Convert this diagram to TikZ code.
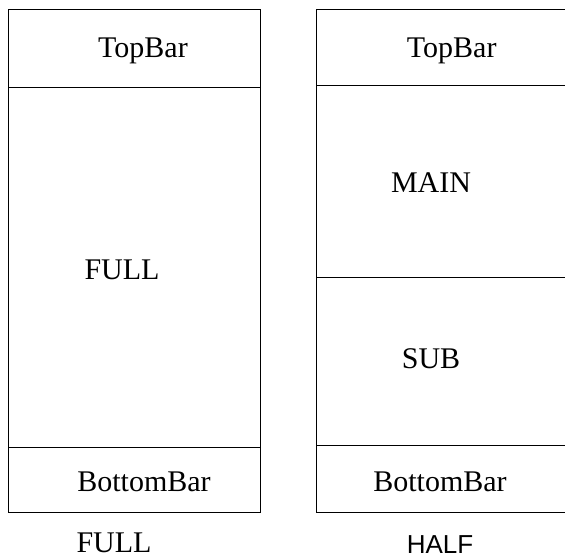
\documentclass[tikz,border=0pt]{standalone}
\usepackage{fontspec}
\setmainfont{Liberation Serif}
\newfontfamily\halffont{Liberation Sans}

\begin{document}
\begin{tikzpicture}[x=1bp,y=-1bp,
                    thick,
                    bar/.style={draw,line width=0.9bp},
                    label node/.style={anchor=base,inner sep=0pt,font=\fontsize{30bp}{36bp}\selectfont}]

  \useasboundingbox (0,0) rectangle (565,560);

  % left screen
  \draw[bar] (8,9.3) rectangle (260.3,87.3);
  \draw[bar] (8,87.3) rectangle (260.3,447.7);
  \draw[bar] (8,447.7) rectangle (260.3,512.3);

  % right screen
  \draw[bar] (316.7,9.3) rectangle (567,85.7);
  \draw[bar] (316.7,85.7) rectangle (567,277);
  \draw[bar] (316.7,277) rectangle (567,445.3);
  \draw[bar] (316.7,445.3) rectangle (567,512.3);

  \node[label node] (topL) at (143,57.3) {TopBar};
  \node[label node] (full) at (122,279) {FULL};
  \node[label node] (botL) at (144,491.7) {BottomBar};
  \node[label node] (capL) at (114,552) {FULL};

  \node[label node] (topR) at (451.7,57.3) {TopBar};
  \node[label node] (main) at (431,193) {MAIN};
  \node[label node] (sub)  at (431,368) {SUB};
  \node[label node] (botR) at (440,491.7) {BottomBar};
  \node[label node,font=\halffont\fontsize{26bp}{30bp}\selectfont] (capR) at (440,553) {HALF};
\end{tikzpicture}
\end{document}
